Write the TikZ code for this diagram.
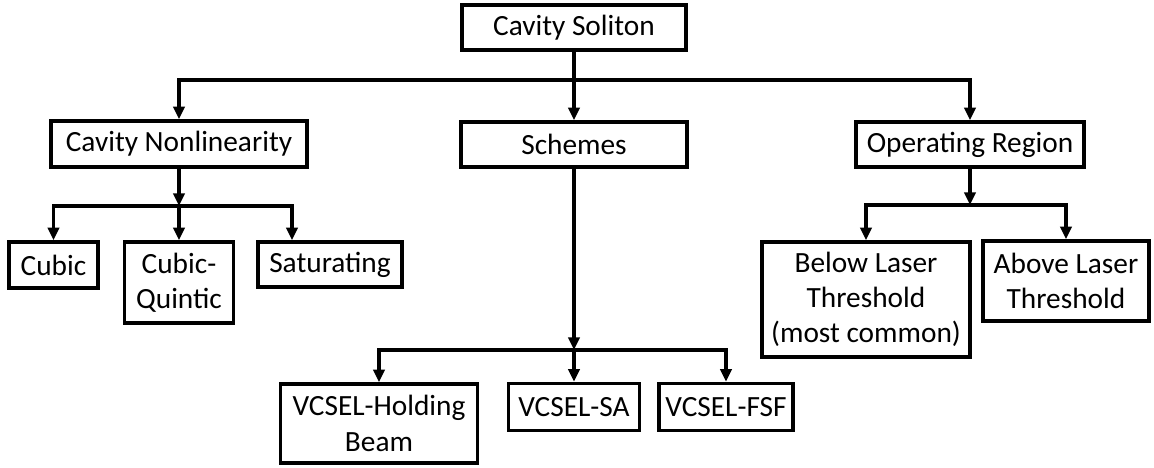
\documentclass[tikz,border=0pt]{standalone}
\usepackage{fontspec}
\setmainfont{Carlito}
\usetikzlibrary{arrows.meta}
\begin{document}
\begin{tikzpicture}[x=0.75pt,y=-0.75pt]
	\tikzset{boks/.style={rectangle, draw=black, line width=2.6pt, align=center, inner sep=0pt, font=\fontsize{22}{26.5}\selectfont},
		linje/.style={line width=2.5pt},
		pil/.style={linje, -{Triangle[length=9.5pt,width=8.5pt]}}}
	\useasboundingbox (0,0) rectangle (1154,468);

	\node[boks, minimum width=168pt, minimum height=33.75pt] at (574, 27.5) (cs) {Cavity Soliton};
	\node[boks, minimum width=192pt, minimum height=34.5pt] at (179, 144) (cn) {Cavity Nonlinearity};
	\node[boks, minimum width=169.5pt, minimum height=33.75pt] at (574, 144.5) (sc) {Schemes};
	\node[boks, minimum width=171pt, minimum height=33.75pt] at (970, 144.5) (or) {Operating Region};
	\node[boks, minimum width=66.75pt, minimum height=34.5pt] at (53.5, 265) (cu) {Cubic};
	\node[boks, minimum width=81.75pt, minimum height=60.75pt] at (179, 282.5) (cq) {Cubic-\\Quintic};
	\node[boks, minimum width=108pt, minimum height=33.75pt] at (330, 264.5) (sa) {Saturating};
	\node[boks, minimum width=156pt, minimum height=86.25pt] at (866, 299.5) (bl) {Below Laser\\Threshold\\(most common)};
	\node[boks, minimum width=124.5pt, minimum height=60pt] at (1066, 281) (al) {Above Laser\\Threshold};
	\node[boks, minimum width=147.75pt, minimum height=59.25pt] at (379, 423.5) (hb) {VCSEL-Holding\\Beam};
	\node[boks, minimum width=98.25pt, minimum height=35.25pt] at (574, 407) (vs) {VCSEL-SA};
	\node[boks, minimum width=100.5pt, minimum height=35.25pt] at (726, 407) (vf) {VCSEL-FSF};

	\coordinate (j0) at (574, 80);
	\coordinate (j1) at (179, 206);
	\coordinate (j1r) at (292, 206);
	\coordinate (j2) at (970, 205);
	\coordinate (j3) at (574, 350);

	\draw [linje] (cs.south) -- (j0);
	\draw [pil] (j0) -| (cn.north);
	\draw [pil] (j0) -- (sc.north);
	\draw [pil] (j0) -| (or.north);

	\draw [pil] (cn.south) -- (j1);
	\draw [pil] (j1) -| (cu.north);
	\draw [pil] (j1) -- (cq.north);
	\draw [pil] (j1) -- (j1r) -- (j1r |- sa.north);

	\draw [pil] (or.south) -- (j2);
	\draw [pil] (j2) -| (bl.north);
	\draw [pil] (j2) -| (al.north);

	\draw [pil] (sc.south) -- (j3);
	\draw [pil] (j3) -| (hb.north);
	\draw [pil] (j3) -- (vs.north);
	\draw [pil] (j3) -| (vf.north);
\end{tikzpicture}
\end{document}
